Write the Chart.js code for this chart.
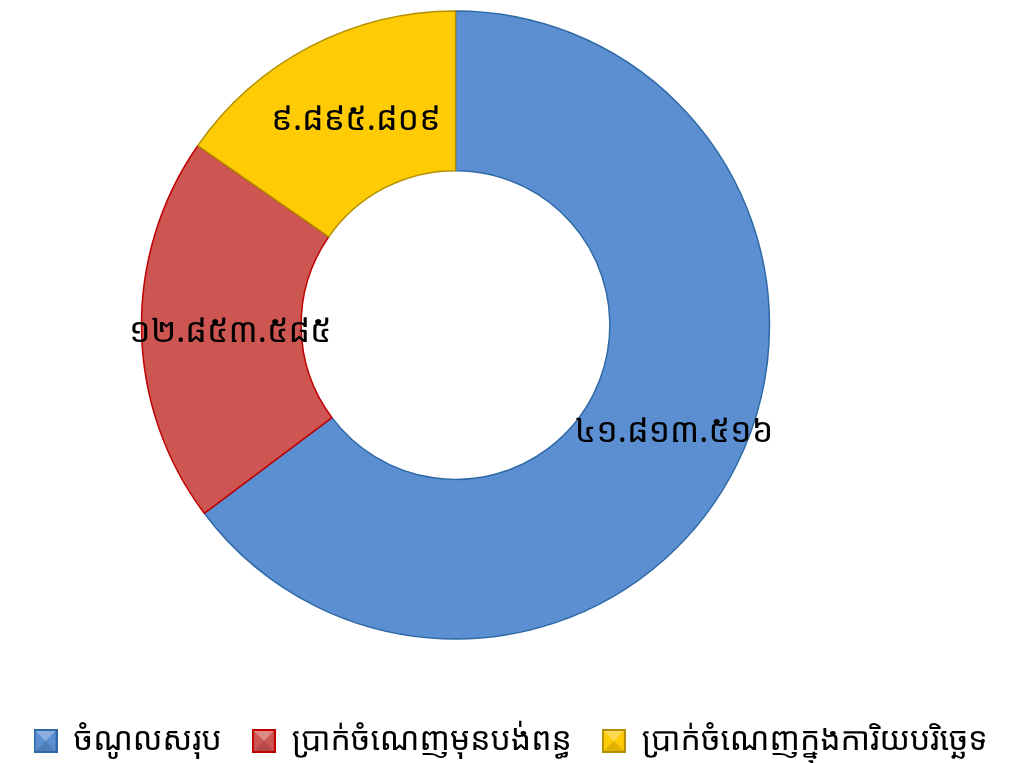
<!DOCTYPE html>
<html>
<head>
<meta charset="utf-8">
<script src="https://cdn.jsdelivr.net/npm/chart.js@4"></script>
<style>
  html, body { margin: 0; padding: 0; background: #fff; }
  #wrap { width: 1021px; height: 763px; }
</style>
</head>
<body>
<div id="wrap"><canvas id="c"></canvas></div>
<script>
const labels = ['ចំណូលសរុប', 'ប្រាក់ចំណេញមុនបង់ពន្ធ', 'ប្រាក់ចំណេញក្នុងការិយបរិច្ឆេទ'];
const values = [41813516, 12853585, 9895809];
const valueLabels = ['៤១.៨១៣.៥១៦', '១២.៨៥៣.៥៨៥', '៩.៨៩៥.៨០៩'];

const fills = ['#5b8fd1', '#cd5653', '#ffcb05'];
const borders = ['#2f6aa6', '#c00000', '#b38f00'];
const FONT = '"Khmer OS", "Khmer OS System", "Noto Sans Khmer", "Noto Serif Khmer", sans-serif';

// bevelled legend swatch
function swatch(fill, border) {
  const s = 24, cv = document.createElement('canvas');
  cv.width = s; cv.height = s;
  const g = cv.getContext('2d');
  g.fillStyle = border; g.fillRect(0, 0, s, s);
  g.fillStyle = fill; g.fillRect(2, 2, s - 4, s - 4);
  g.fillStyle = 'rgba(255,255,255,0.3)';
  g.beginPath(); g.moveTo(2, 2); g.lineTo(s - 2, 2); g.lineTo(s / 2, s / 2); g.closePath(); g.fill();
  g.fillStyle = 'rgba(0,0,0,0.12)';
  g.beginPath(); g.moveTo(2, s - 2); g.lineTo(s - 2, s - 2); g.lineTo(s / 2, s / 2); g.closePath(); g.fill();
  return cv;
}

// keep the ring where it sits in the original, left of the page centre
const placeRing = {
  id: 'placeRing',
  afterLayout(chart) {
    const a = chart.chartArea;
    a.left = 0; a.right = 911;
    a.top = 11; a.bottom = 639;
    a.width = a.right - a.left; a.height = a.bottom - a.top;
  }
};

const sliceLabels = {
  id: 'sliceLabels',
  afterDatasetsDraw(chart) {
    const { ctx } = chart;
    const meta = chart.getDatasetMeta(0);
    ctx.save();
    ctx.font = '34px ' + FONT;
    ctx.fillStyle = '#000';
    ctx.textAlign = 'center';
    ctx.textBaseline = 'middle';
    meta.data.forEach((arc, i) => {
      const p = arc.getCenterPoint();
      ctx.fillText(valueLabels[i], p.x + 9, p.y + 3);
    });
    ctx.restore();
  }
};

new Chart(document.getElementById('c'), {
  type: 'doughnut',
  data: {
    labels,
    datasets: [{
      data: values,
      backgroundColor: fills,
      borderColor: borders,
      borderWidth: 1.5,
      radius: 314,
      cutout: 154,
    }],
  },
  options: {
    responsive: true,
    maintainAspectRatio: false,
    animation: false,
    layout: { padding: { top: 0, left: 0, right: 0, bottom: -4 } },
    plugins: {
      tooltip: { enabled: false },
      legend: {
        position: 'bottom',
        labels: {
          usePointStyle: true,
          boxWidth: 24,
          boxHeight: 24,
          padding: 30,
          color: '#000',
          font: { size: 32, family: FONT },
          generateLabels: chart => labels.map((t, i) => ({
            text: t,
            pointStyle: swatch(fills[i], borders[i]),
            fillStyle: fills[i],
            strokeStyle: borders[i],
            lineWidth: 0,
            index: i,
          })),
        },
      },
    },
  },
  plugins: [placeRing, sliceLabels],
});
</script>
</body>
</html>
